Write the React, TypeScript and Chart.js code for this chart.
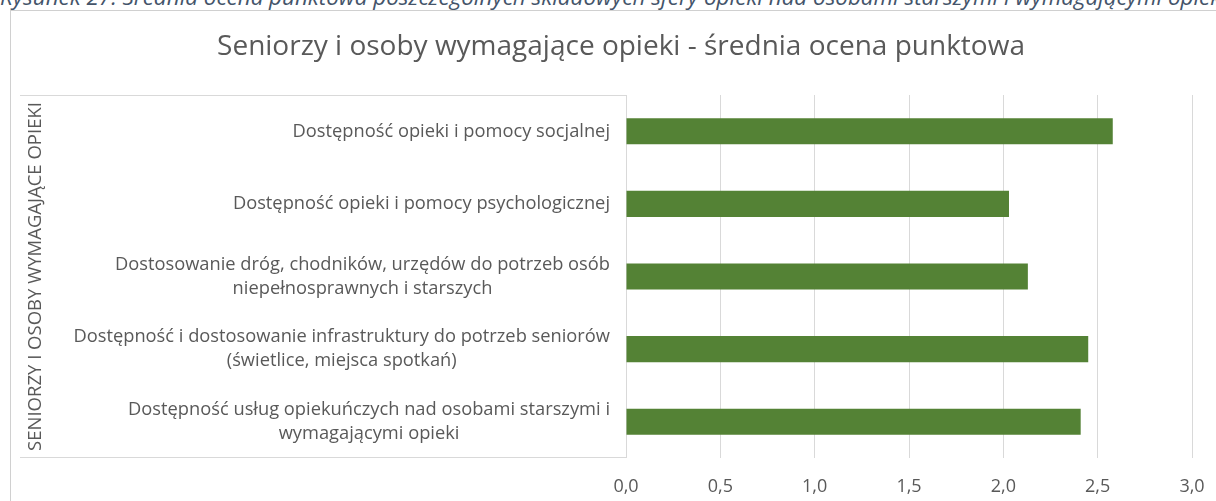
import React, { useEffect, useRef } from 'react';
import { Chart, registerables } from 'chart.js';

Chart.register(...registerables);

const CAPTION =
  'Rysunek 27. Średnia ocena punktowa poszczególnych składowych sfery opieki nad osobami starszymi i wymagającymi opieki.';
const TITLE = 'Seniorzy i osoby wymagające opieki - średnia ocena punktowa';
const GROUP_LABEL = 'SENIORZY I OSOBY WYMAGAJĄCE OPIEKI';

const categories: string[][] = [
  ['Dostępność opieki i pomocy socjalnej'],
  ['Dostępność opieki i pomocy psychologicznej'],
  ['Dostosowanie dróg, chodników, urzędów do potrzeb osób', 'niepełnosprawnych i starszych'],
  ['Dostępność i dostosowanie infrastruktury do potrzeb seniorów', '(świetlice, miejsca spotkań)'],
  ['Dostępność usług opiekuńczych nad osobami starszymi i', 'wymagającymi opieki'],
];
const values = [2.58, 2.03, 2.13, 2.45, 2.41];
const xTicks = [0, 0.5, 1, 1.5, 2, 2.5, 3];

const FONT = '"Open Sans", "DejaVu Sans", sans-serif';
const TEXT = '#595959';
const GRID = '#d9d9d9';
const BAR = '#548235';
const LABEL_SIZE = 18.3;
const LINE_H = 24;

const labelPlugin = {
  id: 'catLabels',
  afterDraw(chart: any) {
    const { ctx, chartArea, scales } = chart;
    const y = scales.y;
    ctx.save();
    ctx.font = `${LABEL_SIZE}px ${FONT}`;
    ctx.fillStyle = TEXT;
    ctx.textBaseline = 'middle';
    ctx.textAlign = 'center';
    categories.forEach((lines, i) => {
      const cy = y.getPixelForValue(i);
      const w = Math.max(...lines.map((l) => ctx.measureText(l).width));
      const cx = chartArea.left - 16 - w / 2;
      const start = cy - ((lines.length - 1) * LINE_H) / 2;
      lines.forEach((l, j) => ctx.fillText(l, cx, start + j * LINE_H));
    });
    ctx.strokeStyle = GRID;
    ctx.lineWidth = 1;
    ctx.beginPath();
    ctx.moveTo(20, Math.round(chartArea.top) + 0.5);
    ctx.lineTo(chartArea.left, Math.round(chartArea.top) + 0.5);
    ctx.moveTo(20, Math.round(chartArea.bottom) - 0.5);
    ctx.lineTo(chartArea.left, Math.round(chartArea.bottom) - 0.5);
    ctx.stroke();
    ctx.translate(36, (chartArea.top + chartArea.bottom) / 2);
    ctx.rotate(-Math.PI / 2);
    ctx.font = `18.5px ${FONT}`;
    ctx.fillText(GROUP_LABEL, 0, 0);
    ctx.restore();
  },
};

export default function App() {
  const ref = useRef<HTMLCanvasElement | null>(null);
  useEffect(() => {
    if (!ref.current) return;
    const chart = new Chart(ref.current, {
      type: 'bar',
      data: {
        labels: categories.map((c) => c.join(' ')),
        datasets: [
          {
            data: values,
            backgroundColor: BAR,
            borderWidth: 0,
            barPercentage: 0.36,
            categoryPercentage: 1,
          },
        ],
      },
      options: {
        indexAxis: 'y',
        animation: false,
        responsive: false,
        maintainAspectRatio: false,
        layout: { padding: { left: 50, right: 24, top: 0, bottom: 0 } },
        plugins: {
          legend: { display: false },
          tooltip: { enabled: false },
          title: {
            display: true,
            text: TITLE,
            color: TEXT,
            font: { family: FONT, size: 28, weight: 'normal' },
            padding: { top: 30, bottom: 31.4 },
          },
        },
        scales: {
          y: {
            ticks: { display: false },
            grid: { display: false },
            border: { display: false },
            afterFit: (s: any) => {
              s.width = 576;
              s.paddingTop = 0;
              s.paddingBottom = 0;
            },
          },
          x: {
            min: 0,
            max: 3,
            afterBuildTicks: (s: any) => {
              s.ticks = xTicks.map((v) => ({ value: v }));
            },
            ticks: {
              color: TEXT,
              font: { family: FONT, size: 18 },
              padding: 18,
              maxRotation: 0,
              autoSkip: false,
              callback: (v: any) => Number(v).toFixed(1).replace('.', ','),
            },
            grid: { color: GRID, lineWidth: 1, drawTicks: false },
            border: { display: false },
            afterFit: (s: any) => {
              s.height = 43;
              s.paddingLeft = 0;
              s.paddingRight = 0;
            },
          },
        },
      },
      plugins: [labelPlugin],
    });
    return () => chart.destroy();
  }, []);

  return (
    <div
      style={{
        position: 'fixed',
        left: 0,
        top: 0,
        width: 1216,
        height: 501,
        overflow: 'hidden',
        background: '#fff',
      }}
    >
      <div
        style={{
          position: 'absolute',
          left: 0,
          top: -14.5,
          whiteSpace: 'nowrap',
          fontFamily: FONT,
          fontStyle: 'italic',
          fontSize: 22.4,
          lineHeight: '22px',
          color: '#44546A',
        }}
      >
        {CAPTION}
      </div>
      <div
        style={{
          position: 'absolute',
          left: 10,
          top: 10,
          width: 1400,
          height: 700,
          border: '1px solid #d0d0d0',
        }}
      />
      <canvas
        ref={ref}
        width={1216}
        height={501}
        style={{ position: 'absolute', left: 0, top: 0, width: 1216, height: 501 }}
      />
    </div>
  );
}
